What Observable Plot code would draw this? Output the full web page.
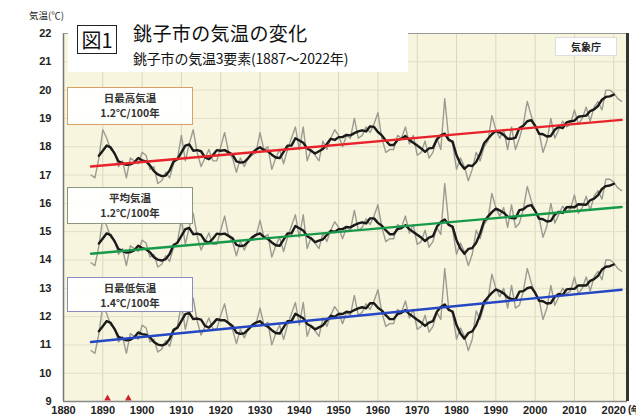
<!DOCTYPE html>
<html><head><meta charset="utf-8">
<script src="https://cdn.jsdelivr.net/npm/d3@7"></script>
<script src="https://cdn.jsdelivr.net/npm/@observablehq/plot@0.6"></script>
<style>
body{margin:0;background:#fff;}
#wrap{position:relative;width:636px;height:417px;overflow:hidden;font-family:"Noto Sans CJK JP","Noto Sans",sans-serif;}
#wrap svg{position:absolute;left:0;top:0;}
.ov{position:absolute;}
#unit{left:29px;top:9px;font-size:9.5px;line-height:12px;color:#222;}
#titlebox{left:68px;top:22px;width:340px;height:50px;background:#fff;}
#fig{left:9px;top:3px;width:38px;height:27px;border:1.5px solid #222;font-size:20px;line-height:27px;text-align:center;color:#111;}
#title{left:65px;top:0px;font-size:19px;line-height:21px;color:#111;white-space:nowrap;letter-spacing:0.4px;}
#sub{left:65px;top:28px;font-size:14px;line-height:16px;color:#111;white-space:nowrap;letter-spacing:-0.2px;}
#jma{left:555px;top:37px;width:60px;height:17px;background:#fff;border:1px solid #ddd;font-size:10px;font-weight:bold;text-align:center;line-height:17px;color:#222;}
.lab{left:67px;width:124px;background:rgba(255,255,255,0.92);font-size:10.5px;font-weight:bold;text-align:center;color:#333;line-height:15px;padding-top:2px;}
#labMax{top:87px;height:34px;border:1.5px solid #d9a066;}
#labMean{top:187px;height:33px;border:1.5px solid #8a9680;}
#labMin{top:277px;height:31px;border:1.5px solid #8c8cc0;}
#yr{left:628px;top:404px;font-size:10px;line-height:12px;font-weight:bold;color:#222;font-family:"Liberation Sans",sans-serif;white-space:nowrap;}
</style></head>
<body><div id="wrap">
<div class="ov" id="unit">気温(℃)</div>
<div class="ov" id="titlebox">
  <div class="ov" id="fig">図1</div>
  <div class="ov" id="title">銚子市の気温の変化</div>
  <div class="ov" id="sub">銚子市の気温3要素(1887〜2022年)</div>
</div>
<div class="ov" id="jma">気象庁</div>
<div class="ov lab" id="labMax">日最高気温<br>1.2℃/100年</div>
<div class="ov lab" id="labMean">平均気温<br>1.2℃/100年</div>
<div class="ov lab" id="labMin">日最低気温<br>1.4℃/100年</div>
<div class="ov" id="yr">(年)</div>
</div>
<script>
// ---- data ----
const firstYear = 1887, lastYear = 2022;
const tmax = [
17.0,16.9,17.6,18.6,18.3,17.9,17.8,17.3,17.5,16.9,17.6,17.5,17.4,
17.8,17.7,17.2,17.3,16.7,16.8,17.1,16.9,17.4,17.6,
18.4,17.5,18.1,18.6,17.8,17.3,17.6,17.9,17.5,17.5,
18.0,18.5,17.8,17.6,17.1,17.6,17.3,17.6,17.7,17.8,
18.5,17.9,18.0,17.2,17.6,17.9,17.4,17.9,18.3,18.7,
17.9,18.7,17.5,17.9,17.7,17.5,18.2,17.9,18.3,18.6,
18.4,18.0,18.4,18.3,19.0,18.3,18.4,18.7,18.5,18.8,
19.2,18.3,17.8,17.9,17.9,18.4,18.3,18.7,18.1,18.4,
17.7,17.8,18.2,17.6,17.8,18.3,17.9,19.7,18.3,18.1,
17.2,17.6,17.3,16.8,17.2,17.8,17.5,18.0,18.2,19.1,
18.6,18.3,18.6,17.9,18.7,17.9,18.3,18.8,19.6,19.1,
18.7,18.5,17.8,18.2,19.0,18.3,18.6,18.9,18.7,18.8,
19.3,18.8,19.0,19.4,18.9,19.4,19.6,19.3,20.0,20.0,
19.9,19.7,19.6];
const tmean = [
13.9,13.8,14.5,15.5,15.2,14.8,14.7,14.2,14.4,13.8,14.5,14.4,14.3,
14.7,14.6,14.1,14.2,13.75,13.85,14.15,13.95,14.45,14.65,
15.45,14.55,15.15,15.65,14.85,14.35,14.65,14.95,14.55,14.55,
15.05,15.55,14.85,14.65,14.15,14.65,14.35,14.65,14.75,14.85,
15.4,14.8,14.9,14.1,14.5,14.8,14.3,14.8,15.2,15.6,
14.8,15.6,14.4,14.8,14.6,14.4,14.95,14.65,15.05,15.35,
15.15,14.75,15.15,15.05,15.75,15.05,15.15,15.45,15.25,15.55,
15.95,15.15,14.65,14.75,14.75,15.25,15.15,15.55,14.95,15.25,
14.55,14.65,15.05,14.45,14.65,15.15,14.9,16.7,15.3,15.1,
14.2,14.6,14.3,13.8,14.2,15.05,14.75,15.25,15.45,16.35,
15.85,15.55,15.85,15.15,15.95,15.15,15.3,15.8,16.6,16.1,
15.7,15.5,14.8,15.2,16.0,15.3,15.6,15.9,15.7,15.8,
16.3,15.65,15.85,16.25,15.75,16.25,16.45,16.15,16.85,16.85,
16.75,16.55,16.45];
const tmin = [
10.8,10.7,11.4,12.4,12.1,11.7,11.6,11.1,11.3,10.7,11.4,11.3,11.2,
11.7,11.6,11.1,11.2,10.75,10.85,11.15,10.95,11.45,11.65,
12.45,11.55,12.15,12.65,11.85,11.35,11.65,11.95,11.55,11.55,
12.05,12.45,11.75,11.55,11.05,11.55,11.25,11.55,11.65,11.75,
12.3,11.7,11.8,11.0,11.4,11.7,11.2,11.7,12.1,12.5,
11.7,12.5,11.3,11.7,11.5,11.3,11.95,11.65,12.05,12.35,
12.15,11.75,12.15,12.05,12.75,12.05,12.15,12.45,12.25,12.55,
12.95,12.15,11.65,11.75,11.75,12.25,12.15,12.55,11.95,12.25,
11.55,11.65,12.05,11.45,11.65,12.15,11.9,13.7,12.3,12.1,
11.2,11.6,11.3,10.8,11.2,12.2,11.9,12.4,12.6,13.5,
13.0,12.7,13.0,12.3,13.1,12.3,12.4,12.9,13.7,13.2,
12.8,12.6,11.9,12.3,13.1,12.4,12.7,13.0,12.8,12.9,
13.4,12.8,13.0,13.4,12.9,13.4,13.6,13.3,14.0,14.0,
13.9,13.7,13.6];
// linear trends (end points)
const trendYears = [1887, 2022];
const trendMax  = [17.30, 18.95];
const trendMean = [14.22, 15.87];
const trendMin  = [11.10, 12.95];
// red markers on the time axis
const markerYears = [1891.2, 1896.5];
const xTicks = [1880,1890,1900,1910,1920,1930,1940,1950,1960,1970,1980,1990,2000,2010,2020];
const yTicks = [9,10,11,12,13,14,15,16,17,18,19,20,21,22];
const xDomain = [1880, 2023.5];
const yDomain = [9, 22];

const years = d3.range(firstYear, lastYear + 1);
const rows = [];
for (const [name, arr] of [["max", tmax], ["mean", tmean], ["min", tmin]])
  arr.forEach((v, i) => rows.push({series: name, year: years[i], value: v}));
const trends = [];
for (const [name, arr, color] of [["max", trendMax, "#e8232b"], ["mean", trendMean, "#17994a"], ["min", trendMin, "#2547c4"]])
  trendYears.forEach((yy, i) => trends.push({series: name, year: yy, value: arr[i], color}));

const chart = Plot.plot({
  width: 636, height: 417,
  marginLeft: 63, marginRight: 9, marginTop: 33, marginBottom: 16,
  style: {background: "transparent", fontFamily: "'Liberation Sans', Arial, sans-serif", fontWeight: "bold", fontSize: "11px", color: "#222", overflow: "visible"},
  x: {domain: xDomain, ticks: xTicks, tickFormat: d => String(d), tickSize: 0, tickPadding: 5, label: null},
  y: {domain: yDomain, ticks: yTicks, tickSize: 0, tickPadding: 12, label: null},
  marks: [
    Plot.frame({fill: "#f7f5de", stroke: null}),
    Plot.ruleX(xTicks, {stroke: "#dad7bd", strokeWidth: 1}),
    Plot.ruleY(yTicks, {stroke: "#e3e0c8", strokeWidth: 1}),
    Plot.line(rows, {x: "year", y: "value", z: "series", stroke: "#9b9b92", strokeWidth: 1.4}),
    Plot.line(rows, Plot.windowY({k: 5, strict: true}, {x: "year", y: "value", z: "series", stroke: "#1a1a1a", strokeWidth: 2.4})),
    Plot.line(trends, {x: "year", y: "value", z: "series", stroke: "color", strokeWidth: 2.4}),
    Plot.dot(markerYears, {x: d => d, y: yDomain[0], symbol: "triangle", r: 2.5, fill: "#d0202a", dy: -3}),
    Plot.ruleX([xDomain[0]], {stroke: "#777", strokeWidth: 1.5}),
    Plot.ruleY([yDomain[0]], {stroke: "#888", strokeWidth: 1.5}),
    Plot.ruleY([yDomain[1]], {stroke: "#999", strokeWidth: 1}),
    Plot.ruleX([xDomain[1]], {stroke: "#333", strokeWidth: 3})
  ]
});
document.getElementById("wrap").prepend(chart);
</script>
</body></html>
